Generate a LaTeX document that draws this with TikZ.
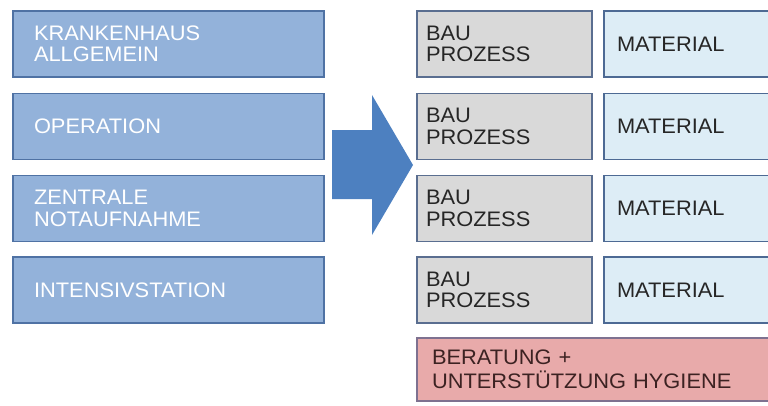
\documentclass[tikz,border=0pt]{standalone}
\usepackage{fontspec}
\setmainfont{Liberation Sans}[FakeStretch=1.04]
\definecolor{leftfill}{HTML}{93B2DA}
\definecolor{leftdraw}{HTML}{4F72A4}
\definecolor{grayfill}{HTML}{D9D9D9}
\definecolor{graydraw}{HTML}{5A6E90}
\definecolor{matfill}{HTML}{DDEDF6}
\definecolor{matdraw}{HTML}{4D6A94}
\definecolor{pinkfill}{HTML}{E8AAAA}
\definecolor{pinkdraw}{HTML}{7E7190}
\definecolor{arrowfill}{HTML}{4D80C0}
\definecolor{darktext}{HTML}{262626}
\tikzset{
  box/.style={rectangle, line width=1.6pt, minimum height=66pt, align=left,
    font=\fontsize{21}{21.5}\selectfont, inner ysep=0pt},
  leftbox/.style={box, fill=leftfill, draw=leftdraw, text=white,
    inner xsep=21pt, text width=269pt},
  graybox/.style={box, fill=grayfill, draw=graydraw, text=darktext,
    inner xsep=9pt, text width=157pt},
  matbox/.style={box, fill=matfill, draw=matdraw, text=darktext,
    inner xsep=13pt, text width=144pt},
  pinkbox/.style={box, fill=pinkfill, draw=pinkdraw, text=darktext!90!red,
    font=\fontsize{21}{24}\selectfont,
    inner xsep=15pt, text width=329pt, minimum height=63pt},
}
\begin{document}
\begin{tikzpicture}[x=1pt,y=-1pt]
\useasboundingbox (0,0) rectangle (768,405);
\clip (0,0) rectangle (768,405);
% left column
\node[leftbox] (k) at (168.5,44) {KRANKENHAUS\\ALLGEMEIN};
\node[leftbox] (o) at (168.5,126.5) {OPERATION};
\node[leftbox] (z) at (168.5,208.5) {ZENTRALE\\NOTAUFNAHME};
\node[leftbox] (i) at (168.5,290) {INTENSIVSTATION};
% arrow
\fill[arrowfill] (332,130) -- (372,130) -- (372,95) -- (413,165) -- (372,235) -- (372,199) -- (332,199) -- cycle;
% right column
\node[graybox] (b1) at (504.5,44) {BAU\\PROZESS};
\node[graybox] (b2) at (504.5,126.5) {BAU\\PROZESS};
\node[graybox] (b3) at (504.5,208.5) {BAU\\PROZESS};
\node[graybox] (b4) at (504.5,290) {BAU\\PROZESS};
\node[matbox] (m1) at (689,44) {MATERIAL};
\node[matbox] (m2) at (689,126.5) {MATERIAL};
\node[matbox] (m3) at (689,208.5) {MATERIAL};
\node[matbox] (m4) at (689,290) {MATERIAL};
\node[pinkbox] (p) at (596.5,369.5) {BERATUNG +\\UNTERSTÜTZUNG HYGIENE};
\end{tikzpicture}
\end{document}
